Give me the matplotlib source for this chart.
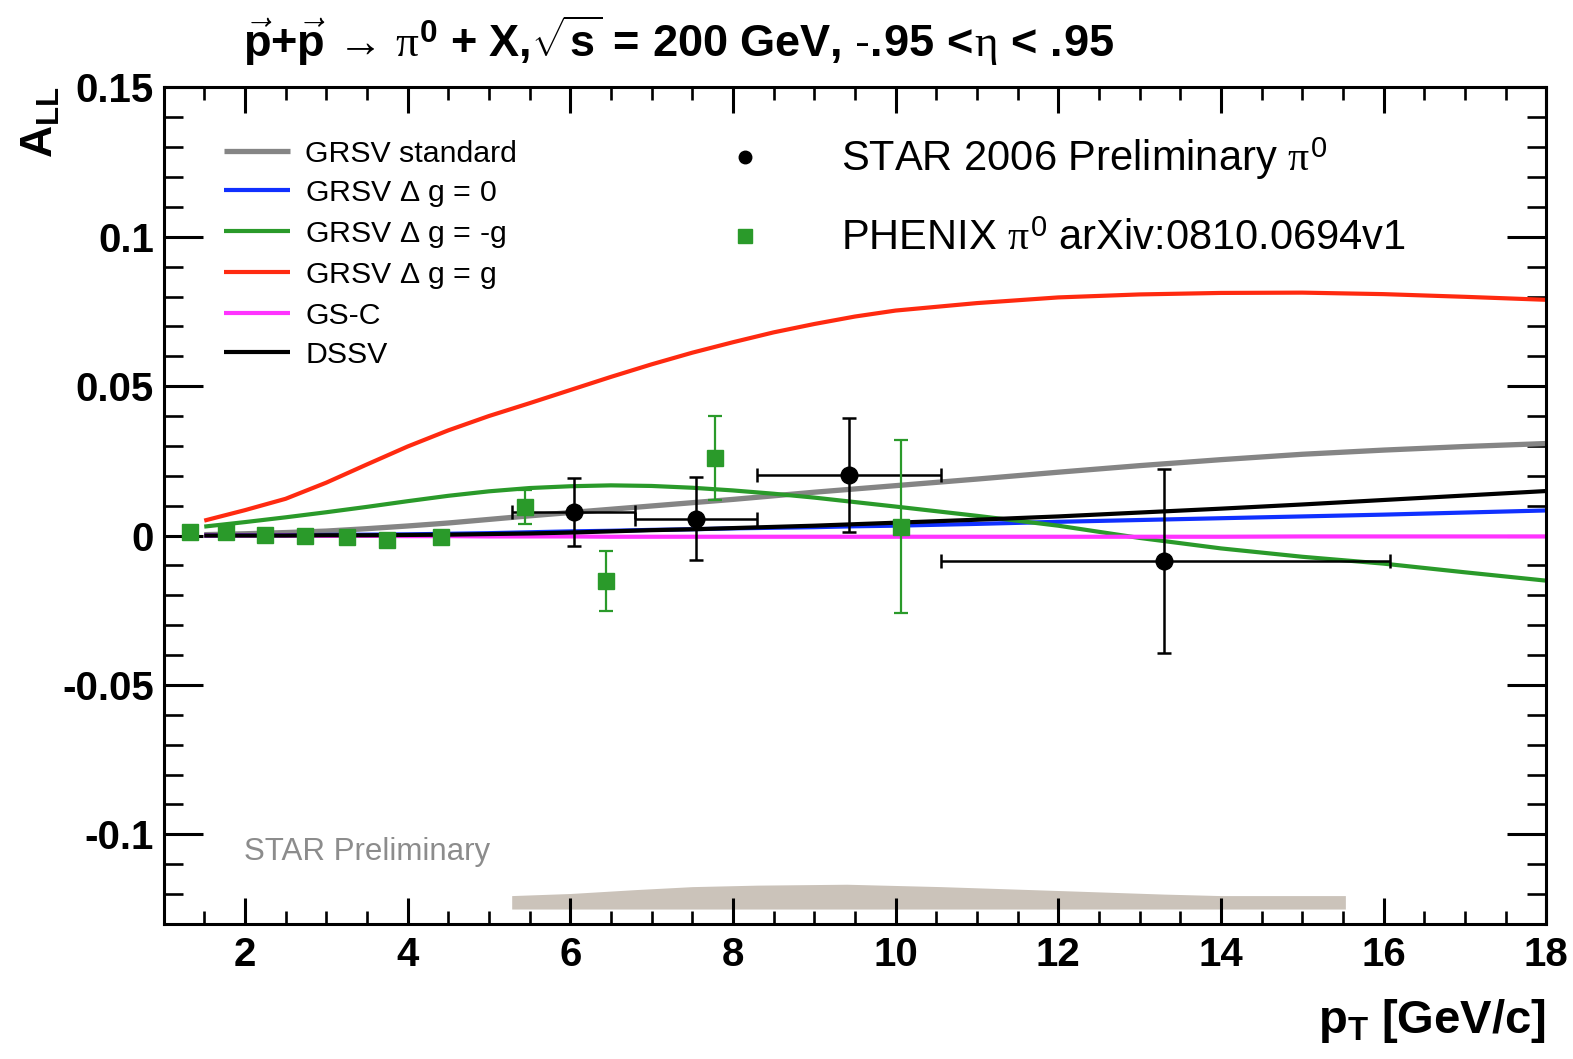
"""
STAR 2006 pi0 A_LL vs pT, compared with PHENIX and pQCD curves (ROOT-style look).
"""

import matplotlib
matplotlib.use("Agg")
import matplotlib.pyplot as plt
from matplotlib.lines import Line2D
from matplotlib.ticker import MultipleLocator

plt.rcParams["font.family"] = ["Liberation Sans", "DejaVu Sans"]
plt.rcParams["mathtext.fontset"] = "custom"
plt.rcParams["mathtext.rm"] = "Liberation Sans"
plt.rcParams["mathtext.bf"] = "Liberation Sans:bold"
plt.rcParams["mathtext.it"] = "Liberation Serif"
plt.rcParams["mathtext.sf"] = "Liberation Sans"

# theory curves
theory_pt = [1.5, 2.0, 2.5, 3.0, 3.5, 4.0, 4.5, 5.0, 5.5, 6.0, 6.5, 7.0, 7.5, 8.0, 8.5,
             9.0, 9.5, 10.0, 11.0, 12.0, 13.0, 14.0, 15.0, 16.0, 17.0, 18.0]
grsv_std = [0.0003, 0.0006, 0.0010, 0.0015, 0.0023, 0.0032, 0.0042, 0.0054, 0.0066, 0.0077,
            0.0088, 0.0099, 0.0110, 0.0121, 0.0133, 0.0145, 0.0156, 0.0167, 0.0189, 0.0212,
            0.0234, 0.0254, 0.0272, 0.0286, 0.0298, 0.0308]
grsv_zero = [0.0, 0.0001, 0.0001, 0.0002, 0.0003, 0.0004, 0.0006, 0.0008, 0.0011, 0.0014,
             0.0016, 0.0019, 0.0021, 0.0024, 0.0026, 0.0028, 0.0031, 0.0033, 0.0039, 0.0046,
             0.0052, 0.0058, 0.0064, 0.0070, 0.0077, 0.0084]
grsv_min = [0.0030, 0.0045, 0.0061, 0.0078, 0.0096, 0.0115, 0.0133, 0.0148, 0.0159, 0.0165,
            0.0168, 0.0166, 0.0160, 0.0151, 0.0140, 0.0127, 0.0112, 0.0097, 0.0066, 0.0033,
            -0.0008, -0.0043, -0.0071, -0.0094, -0.0123, -0.0151]
grsv_max = [0.0050, 0.0085, 0.0123, 0.0177, 0.0238, 0.0298, 0.0352, 0.0400, 0.0443, 0.0487,
            0.0531, 0.0573, 0.0612, 0.0647, 0.0680, 0.0708, 0.0733, 0.0753, 0.0778, 0.0797,
            0.0807, 0.0812, 0.0813, 0.0808, 0.0799, 0.0789]
gsc = [0.0, 0.0, 0.0, -0.0001, -0.0001, -0.0002, -0.0002, -0.0003, -0.0003, -0.0003,
       -0.0004, -0.0004, -0.0004, -0.0004, -0.0004, -0.0004, -0.0004, -0.0004, -0.0004, -0.0004,
       -0.0004, -0.0004, -0.0003, -0.0003, -0.0003, -0.0003]
dssv = [0.0, 0.0, 0.0, 0.0001, 0.0001, 0.0002, 0.0003, 0.0005, 0.0007, 0.0010,
        0.0014, 0.0018, 0.0021, 0.0025, 0.0029, 0.0033, 0.0038, 0.0043, 0.0053, 0.0064,
        0.0077, 0.0090, 0.0104, 0.0119, 0.0134, 0.0149]

# STAR 2006 preliminary points
star_pt = [6.04, 7.545, 9.43, 13.3]
star_lo = [5.28, 6.79, 8.30, 10.56]
star_hi = [6.79, 8.30, 10.56, 16.08]
star_all = [0.0078, 0.0057, 0.0202, -0.0085]
star_err = [0.0114, 0.0138, 0.0190, 0.0307]

# PHENIX points
phx_pt = [1.33, 1.77, 2.25, 2.74, 3.25, 3.75, 4.41, 5.44, 6.44, 7.78, 10.07]
phx_all = [0.0011, 0.0013, 0.0002, 0.0, -0.0006, -0.0015, -0.0006, 0.0097, -0.0151, 0.0259, 0.0030]
phx_err = [0.0006, 0.0006, 0.0007, 0.0008, 0.0010, 0.0012, 0.0020, 0.0057, 0.0100, 0.0140, 0.0290]

# systematic band at the bottom
sys_pt = [5.28, 6.0, 6.8, 7.5, 8.3, 9.4, 10.56, 12.0, 13.3, 14.0, 15.53]
sys_lo = [-0.125] * len(sys_pt)
sys_hi = [-0.1205, -0.1198, -0.1185, -0.1175, -0.1170, -0.1167, -0.1175, -0.1188, -0.1200,
          -0.1205, -0.1205]

y_ticks = [-0.1, -0.05, 0.0, 0.05, 0.1, 0.15]
y_labels = ["-0.1", "-0.05", "0", "0.05", "0.1", "0.15"]
x_ticks = [2, 4, 6, 8, 10, 12, 14, 16, 18]

CURVES = [
    (grsv_std, "#858585", 3.8, "GRSV standard"),
    (grsv_zero, "#1030ff", 3.0, r"GRSV $\Delta$ g = 0"),
    (grsv_min, "#2a9a2a", 3.0, r"GRSV $\Delta$ g = -g"),
    (grsv_max, "#ff2a10", 3.0, r"GRSV $\Delta$ g = g"),
    (gsc, "#ff33ff", 3.0, "GS-C"),
    (dssv, "#000000", 3.0, "DSSV"),
]
PHX_GREEN = "#2a9a2a"

TITLE = (r"$\mathbf{\vec{p}{+}\vec{p}}\,\rightarrow\,\pi^{\mathbf{0}}\ \mathbf{{+}\ X,}\!"
         r"\sqrt{\mathbf{s}}\,\mathbf{=}\,\mathbf{200\ GeV,}\,\text{-}\mathbf{.\!95}\,"
         r"\mathbf{<}\!\eta\,\mathbf{<}\,\mathbf{.\!95}$")


def style_axes(ax):
    ax.set_xlim(1.0, 18.0)
    ax.set_ylim(-0.13, 0.15)
    ax.set_xticks(x_ticks)
    ax.set_xticklabels([str(t) for t in x_ticks])
    ax.set_yticks(y_ticks)
    ax.set_yticklabels(y_labels)
    ax.xaxis.set_minor_locator(MultipleLocator(0.5))
    ax.yaxis.set_minor_locator(MultipleLocator(0.01))
    for s in ax.spines.values():
        s.set_linewidth(2.2)
    ax.tick_params(axis="both", which="both", direction="in", top=True, right=True, color="black")
    ax.tick_params(axis="x", which="major", length=19, width=2.2, pad=9, labelsize=29)
    ax.tick_params(axis="x", which="minor", length=9.5, width=1.9)
    ax.tick_params(axis="y", which="major", length=28, width=2.2, pad=7, labelsize=29)
    ax.tick_params(axis="y", which="minor", length=14, width=1.9)
    for lab in ax.get_xticklabels() + ax.get_yticklabels():
        lab.set_fontweight("bold")


def main():
    fig = plt.figure(figsize=(15.73, 10.59), dpi=100)
    ax = fig.add_axes([0.104, 0.1275, 0.879, 0.790])

    ax.fill_between(sys_pt, sys_lo, sys_hi, color="#cbc3ba", lw=0)

    curve_handles = []
    for ys, color, lw, label in CURVES:
        (ln,) = ax.plot(theory_pt, ys, color=color, lw=lw, label=label, solid_capstyle="butt")
        curve_handles.append(ln)

    xerr = [[p - lo for p, lo in zip(star_pt, star_lo)],
            [hi - p for p, hi in zip(star_pt, star_hi)]]
    ax.errorbar(star_pt, star_all, yerr=star_err, xerr=xerr, fmt="o", color="black",
                ms=12, elinewidth=1.8, capsize=5, capthick=1.8, zorder=5)
    ax.errorbar(phx_pt, phx_all, yerr=phx_err, fmt="s", color=PHX_GREEN, mec=PHX_GREEN,
                ms=11, elinewidth=1.6, capsize=5, capthick=1.6, zorder=6)

    style_axes(ax)

    leg1 = ax.legend(handles=curve_handles, loc="upper left", bbox_to_anchor=(0.0435, 0.937),
                     frameon=False, fontsize=21.8, handlelength=2.2, handletextpad=0.5,
                     labelspacing=0.36, borderaxespad=0, borderpad=0)
    ax.add_artist(leg1)

    data_handles = [
        Line2D([], [], ls="none", marker="o", color="black", ms=9),
        Line2D([], [], ls="none", marker="s", color=PHX_GREEN, ms=10),
    ]
    ax.legend(handles=data_handles,
              labels=[r"STAR 2006 Preliminary $\pi^{0}$", r"PHENIX $\pi^{0}$ arXiv:0810.0694v1"],
              loc="upper left", bbox_to_anchor=(0.392, 0.942), frameon=False, fontsize=30,
              handlelength=1.9, handletextpad=1.35, labelspacing=0.88, borderaxespad=0,
              borderpad=0)

    ax.text(0.058, 0.0865, "STAR Preliminary", transform=ax.transAxes, fontsize=22.5,
            color="#8c8c8c", va="center", ha="left")

    fig.text(0.1545, 0.9462, TITLE, fontsize=32.5, ha="left", va="baseline")
    fig.text(0.983, 0.0246, r"$\mathbf{p_{T}\ [GeV/c]}$", fontsize=34, ha="right",
             va="baseline")
    fig.text(0.026, 0.885, r"$\mathbf{A_{LL}}$", fontsize=32, rotation=90, ha="center",
             va="center")

    fig.savefig("out.png", dpi=100)


if __name__ == "__main__":
    main()
